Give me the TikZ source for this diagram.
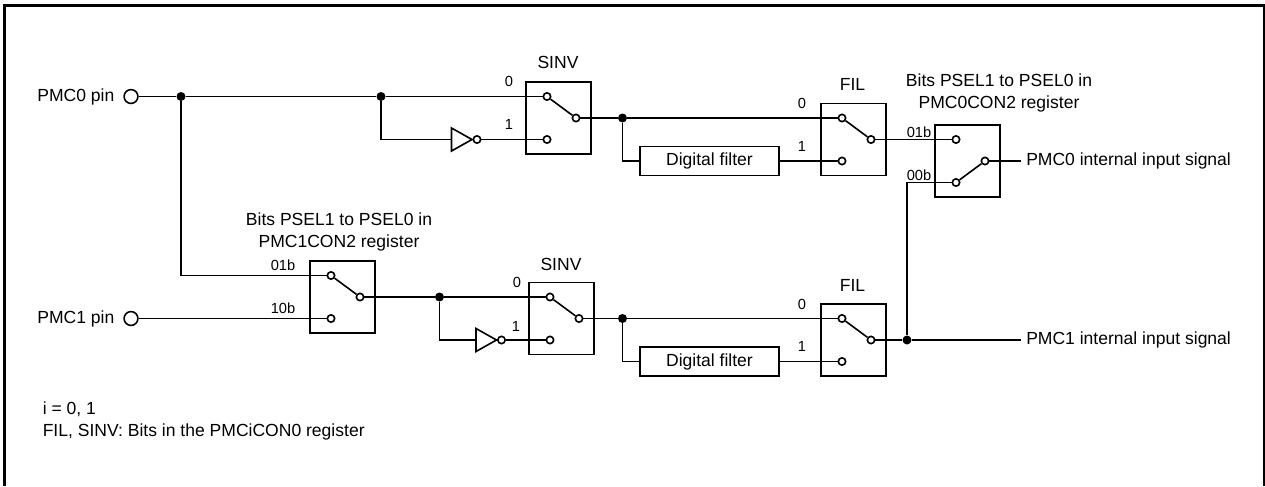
\documentclass[tikz,border=0pt]{standalone}
\usepackage{fontspec}
\setmainfont{Liberation Sans}
\usetikzlibrary{calc,positioning}
\tikzset{
  wire/.style={line width=1.2pt},
  boxframe/.style={draw,line width=1.2pt,inner sep=0pt,minimum width=48.75pt,minimum height=54pt},
  filterbox/.style={draw,line width=1.2pt,inner sep=0pt,minimum width=104.25pt,minimum height=21.75pt,font=\fontsize{13.15}{16.5}\selectfont},
  term/.style={circle,draw,fill=white,line width=1.2pt,inner sep=0pt,minimum size=5.5pt},
  pinterm/.style={circle,draw,fill=white,line width=1.2pt,inner sep=0pt,minimum size=10.4pt},
  junct/.style={circle,fill=black,inner sep=0pt,minimum size=6.75pt},
  invtri/.style={draw,line width=1.2pt,fill=white},
  txt/.style={inner sep=0pt,font=\fontsize{13.15}{16.5}\selectfont},
  smalltxt/.style={inner sep=0pt,font=\fontsize{11}{13}\selectfont},
}
% box centre, then the three contacts of the switch
\newcommand{\switchbox}[3]{%
  \node[boxframe] (#1) at (#2,#3) {};
  \node[term] (#1a) at (#2-11.5,#3-21.5) {};
  \node[term] (#1b) at (#2-11.5,#3+21.5) {};
  \node[term] (#1c) at (#2+17.5,#3) {};
}
\newcommand{\inverter}[3]{%
  \draw[invtri] (#2-10.5,#3-11.5) -- (#2-10.5,#3+11.5) -- (#2+10,#3) -- cycle;
  \coordinate (#1in) at (#2-10.5,#3);
  \node[term] (#1out) at (#2+15,#3) {};
}
\begin{document}
\begin{tikzpicture}[x=0.75pt,y=-0.75pt]
  \useasboundingbox (0,0) rectangle (1265,486);
  \draw[line width=2.25pt] (4.5,486) -- (4.5,5.5) -- (1264.5,5.5) -- (1264.5,486);

  \switchbox{sinvA}{558.5}{118}
  \switchbox{filA}{853.5}{139.5}
  \switchbox{pselA}{967.5}{161}
  \switchbox{pselB}{342.5}{297}
  \switchbox{sinvB}{561.5}{318.5}
  \switchbox{filB}{853.5}{340}

  \inverter{invA}{462}{139.5}
  \inverter{invB}{486.5}{340}

  \node[filterbox] (dfA) at (709.5,161) {Digital filter};
  \node[filterbox] (dfB) at (709.5,361.5) {Digital filter};

  \node[pinterm] (pinA) at (131,96.5) {};
  \node[pinterm] (pinB) at (131,318.5) {};
  \node[txt,left=6.5pt of pinA] {PMC0 pin};
  \node[txt,left=6.5pt of pinB] {PMC1 pin};

  \node[junct] (jA) at (181,96.5) {};
  \node[junct] (jB) at (381,96.5) {};
  \node[junct] (jC) at (622.5,118) {};
  \node[junct] (jD) at (439.5,297) {};
  \node[junct] (jE) at (622.5,318.5) {};
  \node[junct] (jF) at (907,340) {};

  \coordinate (outA) at (1021,161);
  \coordinate (outB) at (1021,340);
  \coordinate (turnA) at (181,275.5);

  \draw[wire] (pinA) -- (jA) -- (jB) -- (sinvAa);
  \draw[wire] (jB) |- (invAin);
  \draw[wire] (invAout) -- (sinvAb);
  \draw[wire] (sinvAa) -- (sinvAc);
  \draw[wire] (sinvAc) -- (jC);
  \draw[wire] (jC) -- (filAa);
  \draw[wire] (jC) |- (dfA);
  \draw[wire] (dfA.east |- filAb) -- (filAb);
  \draw[wire] (filAa) -- (filAc);
  \draw[wire] (filAc) -- (pselAa);
  \draw[wire] (pselAb) -- (pselAc);
  \draw[wire] (pselAc) -- (outA);
  \draw[wire] (jA) -- (turnA) -- (pselBa);
  \draw[wire] (pinB) -- (pselBb);
  \draw[wire] (pselBa) -- (pselBc);
  \draw[wire] (pselBc) -- (jD);
  \draw[wire] (jD) -- (sinvBa);
  \draw[wire] (jD) |- (invBin);
  \draw[wire] (invBout) -- (sinvBb);
  \draw[wire] (sinvBa) -- (sinvBc);
  \draw[wire] (sinvBc) -- (jE);
  \draw[wire] (jE) -- (filBa);
  \draw[wire] (jE) |- (dfB);
  \draw[wire] (dfB.east |- filBb) -- (filBb);
  \draw[wire] (filBa) -- (filBc);
  \draw[wire] (filBc) -- (jF);
  \draw[wire] (jF) -- (outB);
  \draw[wire] (jF) |- (pselAb);

  \node[txt] at (558,62) {SINV};
  \node[txt] at (561,264) {SINV};
  \node[txt] at (852.5,84) {FIL};
  \node[txt] at (852.5,285) {FIL};

  \node[smalltxt] at (509,81) {0};
  \node[smalltxt] at (509,124) {1};
  \node[smalltxt] at (517,282) {0};
  \node[smalltxt] at (516,326) {1};
  \node[smalltxt] at (802,103) {0};
  \node[smalltxt] at (802,146) {1};
  \node[smalltxt] at (802,304) {0};
  \node[smalltxt] at (802,346) {1};
  \node[smalltxt] at (919,132) {01b};
  \node[smalltxt] at (919,175) {00b};
  \node[smalltxt] at (283,265) {01b};
  \node[smalltxt] at (283,308) {10b};

  \node[txt,align=center] at (999,92.5) {Bits PSEL1 to PSEL0 in\\PMC0CON2 register};
  \node[txt,align=center] at (339,232) {Bits PSEL1 to PSEL0 in\\PMC1CON2 register};
  \node[txt,anchor=west] at (1026,161) {PMC0 internal input signal};
  \node[txt,anchor=west] at (1026,340) {PMC1 internal input signal};
  \node[txt,anchor=west,align=left] at (42.5,421) {i = 0, 1\\FIL, SINV: Bits in the PMCiCON0 register};
\end{tikzpicture}
\end{document}
